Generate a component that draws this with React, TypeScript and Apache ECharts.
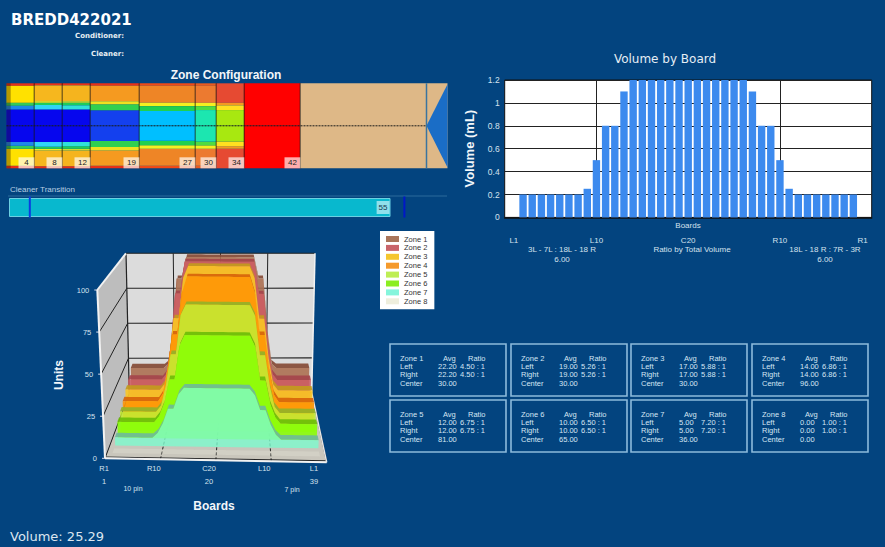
import React, { useEffect, useRef } from "react";
import * as echarts from "echarts";

const BG = "#03447F";
const SANS = "Liberation Sans";
const DEJAVU = "DejaVu Sans";
const SOFT = "#D5E2EE";

// ---- Zone configuration strip
const zoneEnds = [4, 8, 12, 19, 27, 30, 34, 42];
const tailEnd = 60;
const stripEnd = 63;
const zoneBandEdges = [
  [0, 3, 23, 26.5, 31, 50],
  [0, 2.5, 21, 23, 25.5, 31, 50],
  [0, 2.5, 21, 23, 26, 31, 50],
  [0, 3, 21, 25, 32, 50],
  [0, 3, 23, 27, 32.5, 50],
  [0, 3, 23, 27, 31.5, 50],
  [0, 23, 26, 31.5, 50],
  [0, 50],
];
const zoneBandColors = [
  ["#E83018", "#FFE100", "#32C95A", "#1E88E8", "#0606EE"],
  ["#E83018", "#F6B71E", "#F0EC20", "#1FCB5A", "#30D5F5", "#0606EE"],
  ["#E83018", "#F5B41E", "#C9E030", "#1FCB5A", "#30E0D8", "#0606EE"],
  ["#E83018", "#F59A20", "#EFE020", "#30D050", "#1440EE"],
  ["#EE4A18", "#EE8526", "#F5F020", "#20D050", "#00BFFF"],
  ["#E85A20", "#EC7A30", "#F5F020", "#50DC40", "#1CE6B0"],
  ["#E64A32", "#F59A20", "#FFE020", "#A8E810"],
  ["#FF0000"],
];

// ---- Cleaner transition
const cleanerEnd = 55;
const cleanerMarks = [3, 57];

// ---- Volume by board
const boardSlots = Array.from({ length: 41 }, (_, i) => String(i));
const volumeByBoard = [
  0, 0, 0.2, 0.2, 0.2, 0.2, 0.2, 0.2, 0.2, 0.25, 0.5, 0.8, 0.8, 1.1, 1.2, 1.2, 1.2, 1.2, 1.2, 1.2, 1.2,
  1.2, 1.2, 1.2, 1.2, 1.2, 1.2, 1.1, 0.8, 0.8, 0.5, 0.25, 0.2, 0.2, 0.2, 0.2, 0.2, 0.2, 0.2, 0, 0,
];
const volumeLabels: Record<string, string> = { "1": "L1", "10": "L10", "20": "C20", "30": "R10", "39": "R1" };

// ---- 3D zone profile (boards 1..39)
const zone1 = [22.2,22.2,22.2,22.2,22.2,22.2,22.2,22.2,25,48,85,85,100,100,100,100,100,100,100,100,100,100,100,100,100,100,100,85,85,48,25,22.2,22.2,22.2,22.2,22.2,22.2,22.2,22.2];
const zone2 = [19,19,19,19,19,19,19,19,23,43,78,78,100,100,100,100,100,100,100,100,100,100,100,100,100,100,100,78,78,43,23,19,19,19,19,19,19,19,19];
const zone3 = [17,17,17,17,17,17,17,17,21,38,65,65,92,100,100,100,100,100,100,100,100,100,100,100,100,100,92,65,65,38,21,17,17,17,17,17,17,17,17];
const zone4 = [14,14,14,14,14,14,14,14,19,34,58,58,85,96,96,96,96,96,96,96,96,96,96,96,96,96,85,58,58,34,19,14,14,14,14,14,14,14,14];
const zone5 = [12,12,12,12,12,12,12,12,16,29,49,49,74,81,81,81,81,81,81,81,81,81,81,81,81,81,74,49,49,29,16,12,12,12,12,12,12,12,12];
const zone6 = [10,10,10,10,10,10,10,10,14,22,37,37,58,65,65,65,65,65,65,65,65,65,65,65,65,65,58,37,37,22,14,10,10,10,10,10,10,10,10];
const zone7 = [5,5,5,5,5,5,5,5,8,14,23,23,32,36,36,36,36,36,36,36,36,36,36,36,36,36,32,23,23,14,8,5,5,5,5,5,5,5,5];
const zone8 = [0,0,0,0,0,0,0,0,0,0,0,0,0,0,0,0,0,0,0,0,0,0,0,0,0,0,0,0,0,0,0,0,0,0,0,0,0,0,0];
const zoneProfiles = [zone1, zone2, zone3, zone4, zone5, zone6, zone7, zone8];
const zoneNames = ["Zone 1", "Zone 2", "Zone 3", "Zone 4", "Zone 5", "Zone 6", "Zone 7", "Zone 8"];
const unitTicks = [0, 25, 50, 75, 100];
const boardTicks = [1, 10, 20, 30, 39];
const boardTickNames: Record<string, string> = { "1": "R1\n1", "10": "R10", "20": "C20\n20", "30": "L10", "39": "L1\n39" };

// ---- Zone summary tables
const zoneAvg = ["22.20", "19.00", "17.00", "14.00", "12.00", "10.00", "5.00", "0.00"];
const zoneRatio = ["4.50 : 1", "5.26 : 1", "5.88 : 1", "6.86 : 1", "6.75 : 1", "6.50 : 1", "7.20 : 1", "1.00 : 1"];
const zoneCenter = ["30.00", "30.00", "30.00", "96.00", "81.00", "65.00", "36.00", "0.00"];

// ---- Styles for the 3D series
const zoneSolid = ["#A9755A", "#C9646A", "#F5C62E", "#F59A2C", "#BEEE55", "#8CEE22", "#85F5DC", "#EEEEDD"];
const zoneFront = ["rgba(172,112,82,.9)", "rgba(205,92,98,.88)", "rgba(250,198,35,.9)", "rgba(255,150,5,.9)", "rgba(195,235,50,.88)", "rgba(135,255,5,.88)", "rgba(125,250,205,.8)", "rgba(240,240,225,.25)"];
const zoneTop = ["rgba(135,78,58,.95)", "rgba(165,68,76,.92)", "rgba(195,155,28,.92)", "rgba(215,100,10,.92)", "rgba(148,178,40,.92)", "rgba(108,190,8,.92)", "rgba(110,185,155,.9)", "rgba(240,240,225,.25)"];

const corners = {
  fbl: [105, 458.3], fbr: [326.7, 462.3], bbl: [129.3, 393.3], bbr: [311.7, 392.7],
  ftl: [97.3, 290], ftr: [334.3, 294], btl: [126, 253.3], btr: [315, 253.3],
};
const mix = (a: number[], b: number[], t: number) => [a[0] + (b[0] - a[0]) * t, a[1] + (b[1] - a[1]) * t];
function cube(u: number, v: number, w: number) {
  const fb = mix(corners.fbl, corners.fbr, u);
  const ft = mix(corners.ftl, corners.ftr, u);
  const bb = mix(corners.bbl, corners.bbr, u);
  const bt = mix(corners.btl, corners.btr, u);
  return mix(mix(fb, ft, v), mix(bb, bt, v), w);
}
// map a data pair through the hidden 3D axes, then push it into the box
function project(api: any, cs: any, board: number, value: number, w: number) {
  const p = api.coord([board, value]);
  return cube((p[0] - cs.x) / cs.width, 1 - (p[1] - cs.y) / cs.height, w);
}
const line = (a: number[], b: number[], stroke: string, lineWidth = 1, lineDash?: number[]) => ({
  type: "line",
  silent: true,
  shape: { x1: a[0], y1: a[1], x2: b[0], y2: b[1] },
  style: { stroke, lineWidth, lineDash },
});
const poly = (points: number[][], fill: string) => ({ type: "polygon", silent: true, shape: { points }, style: { fill } });

function renderWalls(params: any, api: any) {
  const cs = params.coordSys;
  const P = (b: number, v: number, w: number) => project(api, cs, b, v, w);
  const kids: any[] = [
    poly([P(0, 0, 1), P(40, 0, 1), P(40, 100, 1), P(0, 100, 1)], "#DCDCDC"),
    poly([P(0, 0, 0), P(0, 0, 1), P(0, 100, 1), P(0, 100, 0)], "#BDBDBD"),
    poly([P(0, 0, 0), P(40, 0, 0), P(40, 0, 1), P(0, 0, 1)], "#C9C6BC"),
  ];
  unitTicks.forEach((t) => {
    kids.push(line(P(0, t, 1), P(40, t, 1), "#222", 1.1));
    kids.push(line(P(0, t, 0), P(0, t, 1), "#222", 1));
    const at = P(0, t, 0);
    kids.push(line([at[0] - 3, at[1]], at, "#DDE", 1));
    kids.push({
      type: "text",
      silent: true,
      style: { x: at[0] - 8, y: at[1], text: String(t), fill: SOFT, fontFamily: SANS, fontSize: 7.5, align: "right", verticalAlign: "middle" },
    });
  });
  [10, 20, 30].forEach((b) => {
    kids.push(line(P(b, 0, 1), P(b, 100, 1), "#222", 1));
    kids.push(line(P(b, 0, 0), P(b, 0, 1), "#222", 1, [3, 2]));
  });
  kids.push(line(P(0, 0, 1), P(0, 100, 1), "#222", 1.2));
  kids.push(line(P(0, 0, 0.02), P(40, 0, 0.02), "#222", 1.2));
  kids.push(line(P(40, 0, 0.02), P(40, 0, 1), "#222", 1.2));
  kids.push(line(P(0, 0, 0), P(40, 0, 0), "#F2F2F2", 2));
  kids.push(line(P(40, 0, 0), P(40, 0, 1), "#E6E6E6", 1.5));
  kids.push(line(P(0, 0, 0), P(0, 100, 0), "#F2F2F2", 2));
  kids.push(line(P(0, 100, 0), P(0, 100, 1), "#F2F2F2", 2));
  kids.push(line(P(40, 0, 1), P(40, 100, 1), "#F2F2F2", 1.5));
  return { type: "group", children: kids };
}

function renderZone(i: number) {
  return (params: any, api: any) => {
    if (params.dataIndex !== 0) return null;
    const cs = params.coordSys;
    const wf = 0.083 + (7 - i) * 0.117;
    const wb = wf + 0.07;
    const values = zoneProfiles[i];
    const front = values.map((v, b) => project(api, cs, b + 1, v, wf));
    const back = values.map((v, b) => project(api, cs, b + 1, v, wb));
    const kids = [
      poly([...front, ...[...back].reverse()], zoneTop[i]),
      poly([project(api, cs, 1, 0, wf), ...front, project(api, cs, 39, 0, wf)], zoneFront[i]),
    ];
    return { type: "group", children: kids };
  };
}

function renderStrip(params: any, api: any) {
  const i = params.dataIndex;
  const kids: any[] = [];
  const rect = (x0: number, y0: number, x1: number, y1: number, fill: string) => {
    const a = api.coord([x0, y0]);
    const b = api.coord([x1, y1]);
    return { type: "rect", silent: true, shape: { x: a[0], y: a[1], width: b[0] - a[0], height: b[1] - a[1] }, style: { fill } };
  };
  const c = (x: number, y: number) => api.coord([x, y]);
  if (i < zoneEnds.length) {
    const start = i === 0 ? 0 : zoneEnds[i - 1];
    const end = zoneEnds[i];
    const edges = zoneBandEdges[i];
    zoneBandColors[i].forEach((col, k) => {
      kids.push(rect(start, edges[k], end, edges[k + 1], col));
      kids.push(rect(start, 100 - edges[k + 1], end, 100 - edges[k], col));
    });
    if (i === 0) kids.push(rect(0, 0, 0.6, 100, "rgba(40,20,0,.35)"));
    kids.push(line(c(end, 0), c(end, 100), "#141414", 1.5));
    const p = c(end, 100);
    kids.push({ type: "rect", silent: true, shape: { x: p[0] - 16, y: p[1] - 11, width: 16, height: 11 }, style: { fill: "rgba(255,255,255,.68)" } });
    kids.push({
      type: "text",
      silent: true,
      style: { x: p[0] - 8, y: p[1] - 5.5, text: String(end), fill: "#222", fontFamily: SANS, fontSize: 8, align: "center", verticalAlign: "middle" },
    });
  } else {
    const last = zoneEnds[zoneEnds.length - 1];
    kids.push(rect(last, 0, stripEnd, 100, "#DEB887"));
    kids.push(poly([c(stripEnd, 1), c(tailEnd, 50), c(stripEnd, 99)], "#1A6DC6"));
    kids.push(line(c(tailEnd, 0), c(tailEnd, 100), "#3A749F", 1.5));
    kids.push(line(c(0, 50), c(tailEnd, 50), "#1A1A1A", 1, [2, 1]));
  }
  return { type: "group", children: kids };
}

function renderCleanerMark(params: any, api: any) {
  const p = api.coord([api.value(0), 0]);
  return { type: "rect", silent: true, shape: { x: p[0] - 1, y: p[1] - 11, width: 2, height: 21 }, style: { fill: params.dataIndex === 0 ? "#0A3CE0" : "#0018C8" } };
}

function label(x: number, y: number, text: string, fontSize: number, fontFamily = SANS, fontWeight = "normal", fill = SOFT, align = "left") {
  return { type: "text", x, y, silent: true, style: { text, fill, fontSize, fontFamily, fontWeight, align, verticalAlign: "middle" } };
}

function panelGraphics() {
  const xs = [390, 511, 631, 752];
  const ys = [344, 400];
  const out: any[] = [];
  const txt = (x: number, y: number, text: string) => label(x, y, text, 7.5, SANS, "normal", "#D5E6F4");
  zoneNames.forEach((name, i) => {
    const x = xs[i % 4];
    const y = ys[Math.floor(i / 4)];
    out.push({ type: "rect", silent: true, shape: { x, y, width: 116, height: 52 }, style: { fill: "transparent", stroke: "#8DBBDC", lineWidth: 1.6 } });
    out.push(txt(x + 10, y + 14, name), txt(x + 53, y + 14, "Avg"), txt(x + 78, y + 14, "Ratio"));
    out.push(txt(x + 10, y + 22, "Left"), txt(x + 48, y + 22, zoneAvg[i]), txt(x + 70, y + 22, zoneRatio[i]));
    out.push(txt(x + 10, y + 30, "Right"), txt(x + 48, y + 30, zoneAvg[i]), txt(x + 70, y + 30, zoneRatio[i]));
    out.push(txt(x + 10, y + 39, "Center"), txt(x + 48, y + 39, zoneCenter[i]));
  });
  return out;
}

const hiddenValue = (gridIndex: number, min: number, max: number, extra: any = {}) => ({
  type: "value",
  gridIndex,
  min,
  max,
  show: false,
  ...extra,
});

function buildOption(): any {
  return {
    animation: false,
    backgroundColor: BG,
    textStyle: { fontFamily: SANS },
    title: [
      { text: "Zone Configuration", left: 221, top: 70, textAlign: "center", textVerticalAlign: "middle", textStyle: { color: "#F2F6FA", fontSize: 12, fontWeight: "bold", fontFamily: SANS } },
      { text: "Volume by Board", left: 660, top: 54, textAlign: "center", textVerticalAlign: "middle", textStyle: { color: "#E6EEF5", fontSize: 12, fontWeight: "normal", fontFamily: DEJAVU } },
    ],
    legend: {
      data: zoneNames,
      orient: "vertical",
      left: 380,
      top: 231,
      padding: [4, 7, 4, 6],
      backgroundColor: "#FFFFFF",
      itemWidth: 13,
      itemHeight: 6,
      itemGap: 0.9,
      icon: "rect",
      selectedMode: false,
      textStyle: { color: "#333", fontSize: 7.5, fontFamily: SANS },
    },
    grid: [
      { left: 6.5, top: 83.3, width: 441, height: 85 },
      { left: 9, top: 198, width: 437, height: 19 },
      { left: 504.7, top: 80, width: 367, height: 137.4, show: true, backgroundColor: "#FFFFFF", borderColor: "#111", borderWidth: 1 },
      { left: 98.5, top: 260, width: 221, height: 200 },
    ],
    xAxis: [
      hiddenValue(0, 0, stripEnd),
      hiddenValue(1, 0, stripEnd),
      {
        type: "category",
        gridIndex: 2,
        data: boardSlots,
        boundaryGap: false,
        axisLine: { lineStyle: { color: "#111", width: 1.5 } },
        axisTick: { show: false },
        splitLine: { show: true, interval: (i: number) => i === 10 || i === 30, lineStyle: { color: "#222", width: 1 } },
        axisLabel: {
          interval: (_: number, v: string) => v in volumeLabels,
          formatter: (v: string) => volumeLabels[v] ?? "",
          color: SOFT,
          fontSize: 8,
          margin: 19,
        },
      },
      {
        type: "value",
        gridIndex: 3,
        min: 0,
        max: 40,
        axisLine: { show: false },
        axisTick: { show: false },
        splitLine: { show: false },
        axisLabel: {
          customValues: boardTicks,
          formatter: (v: number) => boardTickNames[String(v)] ?? "",
          color: SOFT,
          fontSize: 7.5,
          lineHeight: 13,
          margin: 1.5,
        },
      },
    ],
    yAxis: [
      hiddenValue(0, 0, 100, { inverse: true }),
      { type: "category", gridIndex: 1, data: ["Cleaner"], show: false },
      {
        type: "value",
        gridIndex: 2,
        min: 0,
        max: 1.2,
        interval: 0.2,
        name: "Volume (mL)",
        nameLocation: "middle",
        nameGap: 29,
        nameTextStyle: { color: "#F2F6FA", fontSize: 13, fontWeight: "bold", fontFamily: SANS },
        axisLine: { show: false },
        axisTick: { show: false },
        splitLine: { lineStyle: { color: "#222", width: 1 } },
        axisLabel: { color: SOFT, fontSize: 8.5, margin: 5 },
      },
      hiddenValue(3, 0, 100),
    ],
    series: [
      {
        type: "custom",
        name: "Zone strip",
        xAxisIndex: 0,
        yAxisIndex: 0,
        renderItem: renderStrip,
        data: [...zoneEnds, tailEnd].map((e) => [e, 50]),
        silent: true,
      },
      {
        type: "bar",
        name: "Cleaner Transition",
        xAxisIndex: 1,
        yAxisIndex: 1,
        data: [cleanerEnd],
        barWidth: 19,
        silent: true,
        itemStyle: { color: "#08B8CE", borderColor: "#6BD0E2", borderWidth: 1 },
        label: { show: true, position: "insideRight", distance: 1, color: "#143A50", fontSize: 8, padding: [3, 2, 2, 2], backgroundColor: "rgba(235,250,255,.6)" },
      },
      {
        type: "custom",
        name: "Cleaner marks",
        xAxisIndex: 1,
        yAxisIndex: 1,
        z: 5,
        renderItem: renderCleanerMark,
        data: cleanerMarks.map((m) => [m, "Cleaner"]),
        encode: { x: 0, y: 1 },
        silent: true,
      },
      {
        type: "bar",
        name: "Volume",
        xAxisIndex: 2,
        yAxisIndex: 2,
        data: volumeByBoard,
        barWidth: 7.4,
        silent: true,
        itemStyle: { color: "#3C8AEE" },
      },
      {
        type: "custom",
        name: "Box",
        xAxisIndex: 3,
        yAxisIndex: 3,
        renderItem: renderWalls,
        data: [[20, 50]],
        silent: true,
      },
      ...zoneNames.map((name, i) => ({
        type: "custom",
        name,
        xAxisIndex: 3,
        yAxisIndex: 3,
        itemStyle: { color: zoneSolid[i] },
        renderItem: renderZone(i),
        data: zoneProfiles[i].map((v, b) => [b + 1, v]),
        silent: true,
      })),
    ],
    graphic: [
      label(11, 20, "BREDD422021", 15, DEJAVU, "bold", "#FFFFFF"),
      label(124, 36, "Conditioner:", 7, DEJAVU, "bold", "#E8EEF4", "right"),
      label(124, 54, "Cleaner:", 7, DEJAVU, "bold", "#E8EEF4", "right"),
      label(10, 189, "Cleaner Transition", 8, SANS, "normal", "#B9CFE2"),
      { type: "line", silent: true, shape: { x1: 8, y1: 196, x2: 447, y2: 196 }, style: { stroke: "#2C6A9C", lineWidth: 1 } },
      label(688, 225, "Boards", 8, SANS, "normal", SOFT, "center"),
      label(562, 249, "3L - 7L : 18L - 18 R", 8, SANS, "normal", SOFT, "center"),
      label(562, 259, "6.00", 8, SANS, "normal", SOFT, "center"),
      label(692, 249, "Ratio by Total Volume", 8, SANS, "normal", SOFT, "center"),
      label(825, 249, "18L - 18 R : 7R - 3R", 8, SANS, "normal", SOFT, "center"),
      label(825, 259, "6.00", 8, SANS, "normal", SOFT, "center"),
      label(133, 488, "10 pin", 7, SANS, "normal", SOFT, "center"),
      label(292, 489, "7 pin", 7, SANS, "normal", SOFT, "center"),
      label(214, 506, "Boards", 12, SANS, "bold", "#F2F6FA", "center"),
      { type: "text", x: 59, y: 375, rotation: Math.PI / 2, silent: true, style: { text: "Units", fill: "#F2F6FA", fontSize: 12, fontFamily: SANS, fontWeight: "bold", align: "center", verticalAlign: "middle" } },
      label(10, 536, "Volume: 25.29", 13, DEJAVU, "normal", "#DCE6F0"),
      ...panelGraphics(),
    ],
  };
}

export default function App() {
  const ref = useRef<HTMLDivElement>(null);
  useEffect(() => {
    document.body.style.margin = "0";
    document.body.style.background = BG;
    const chart = echarts.init(ref.current!, undefined, { renderer: "svg" });
    chart.setOption(buildOption());
    return () => chart.dispose();
  }, []);
  return <div ref={ref} style={{ position: "absolute", left: 0, top: 0, width: 885, height: 547 }} />;
}
